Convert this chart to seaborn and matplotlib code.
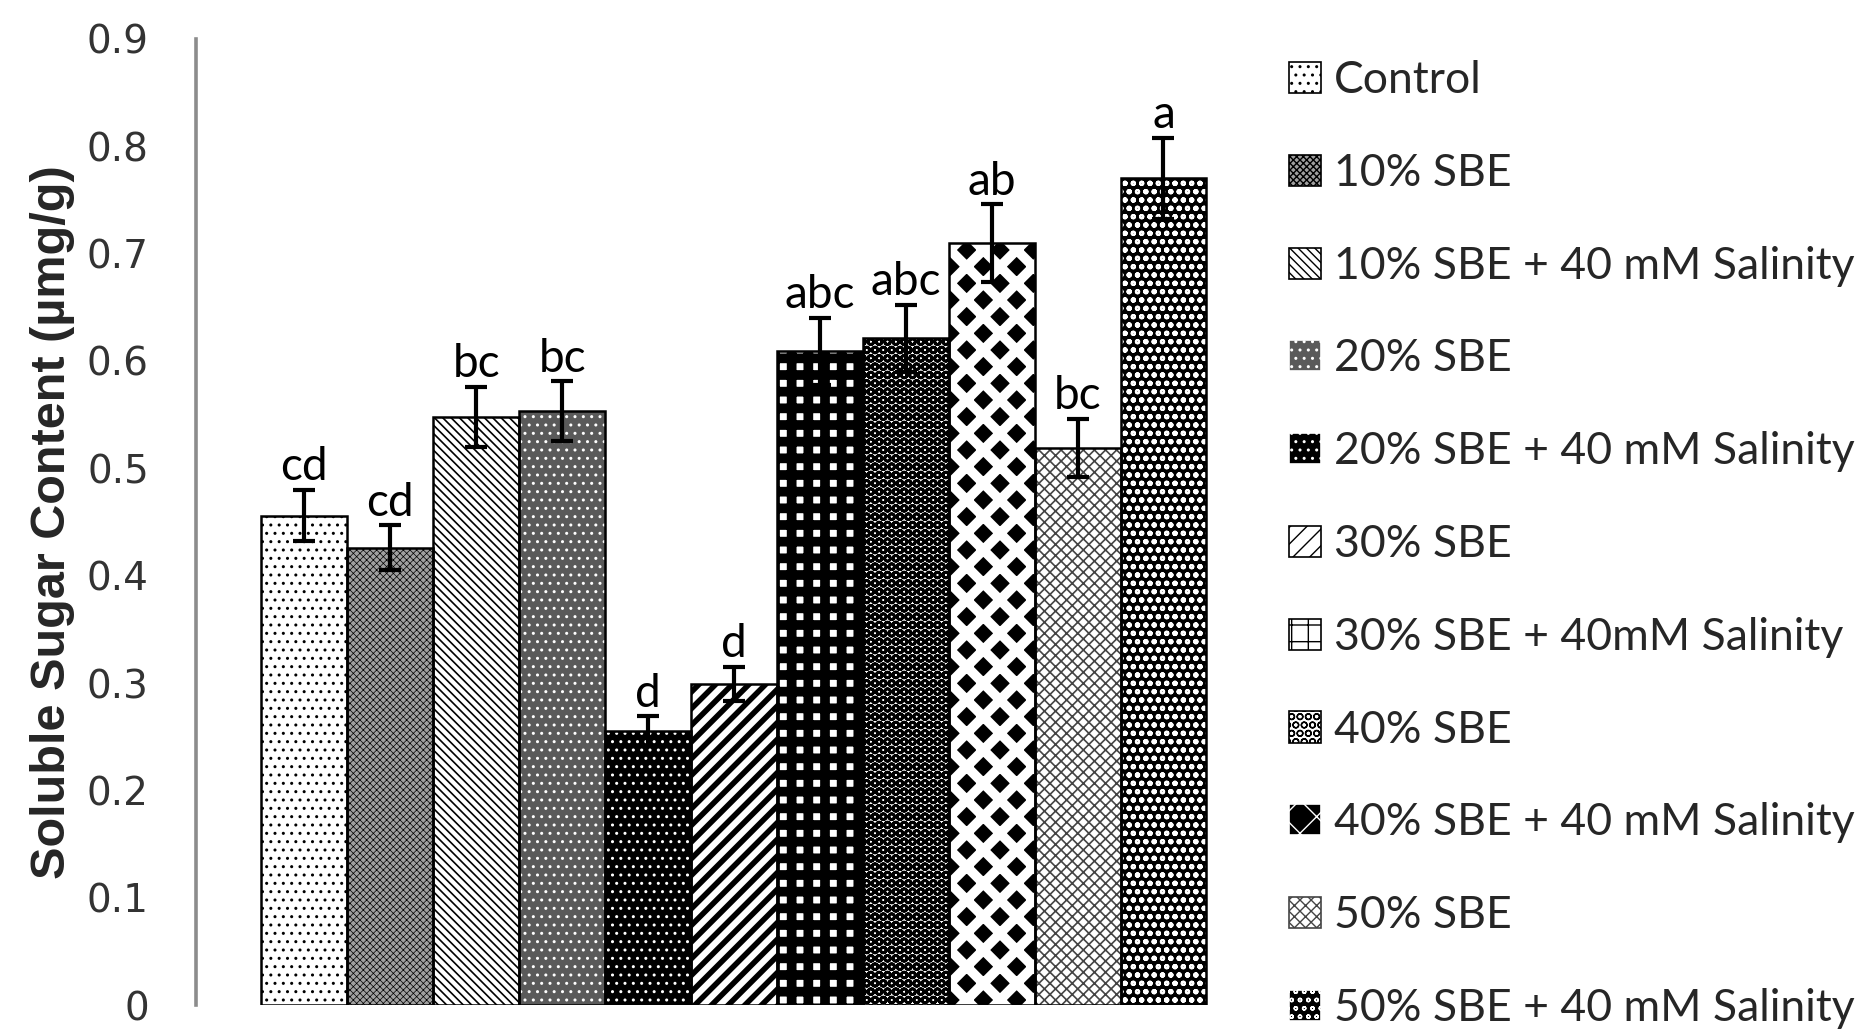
import matplotlib
matplotlib.use("Agg")
import matplotlib.pyplot as plt
from matplotlib.patches import Rectangle
import pandas as pd
import seaborn as sns

treatments = ["Control", "10% SBE", "10% SBE + 40 mM Salinity", "20% SBE",
              "20% SBE + 40 mM Salinity", "30% SBE", "30% SBE + 40mM Salinity",
              "40% SBE", "40% SBE + 40 mM Salinity", "50% SBE",
              "50% SBE + 40 mM Salinity"]
sugar = [0.456, 0.426, 0.548, 0.553, 0.255, 0.299, 0.609, 0.621, 0.710, 0.519, 0.770]
sugar_err = [0.024, 0.021, 0.028, 0.028, 0.014, 0.016, 0.031, 0.031, 0.036, 0.027, 0.038]
letters = ["cd", "cd", "bc", "bc", "d", "d", "abc", "abc", "ab", "bc", "a"]

# bar fill styles (face colour, hatch, hatch colour, hatch width)
faces = ["white", "#a0a0a0", "white", "#5a5a5a", "black", "white",
         "white", "white", "black", "white", "black"]
hatches = ["..", "xxxxx", "\\\\\\\\", "..", "..", "//", "+", "OO", "x", "xxx", "oo"]
hatch_cols = ["black", "black", "black", "white", "white", "black",
              "black", "black", "white", "#444444", "white"]
hatch_lws = [1.0, 0.5, 1.2, 1.0, 1.0, 4.0, 7.0, 2.0, 7.0, 1.2, 1.5]

df = pd.DataFrame({"Treatment": treatments, "Sugar": sugar})

sns.set_style("white")
fig = plt.figure(figsize=(18.62, 10.36), dpi=100)
ax = fig.add_axes([0.1053, 0.0299, 0.5777, 0.9325])

sns.barplot(data=df, x="Treatment", y="Sugar", hue="Treatment", order=treatments,
            hue_order=treatments, width=1.0, legend=False, errorbar=None, ax=ax)

bars = list(ax.patches)
for p, fc, h, hc, hlw in zip(bars, faces, hatches, hatch_cols, hatch_lws):
    p.set_facecolor(fc)
    p.set_hatch(h)
    p.set_edgecolor(hc)
    p.set_linewidth(0)
    if hasattr(p, "set_hatch_linewidth"):
        p.set_hatch_linewidth(hlw)
    ax.add_patch(Rectangle(p.get_xy(), p.get_width(), p.get_height(),
                           fill=False, edgecolor="black", linewidth=1.8, zorder=3))

xs = [p.get_x() + p.get_width() / 2 for p in bars]
ax.errorbar(xs, sugar, yerr=sugar_err, fmt="none", ecolor="black",
            elinewidth=3, capsize=8, capthick=3, zorder=4)

for x, v, e, lab in zip(xs, sugar, sugar_err, letters):
    ax.text(x, v + e + 0.009, lab, ha="center", va="baseline",
            fontsize=33, family="Lato", color="black")

ax.set_xlim(-1.26, 11.26)
ax.set_ylim(0, 0.9)
ax.set_yticks([i / 10 for i in range(10)])
ax.set_yticklabels(["0"] + [f"0.{i}" for i in range(1, 10)])
ax.set_xticks([])
ax.set_xlabel("")
ax.set_ylabel("Soluble Sugar Content (µmg/g)", fontsize=35, fontweight="bold",
              family="Liberation Sans")
ax.yaxis.set_label_coords(-0.113, 0.5)
ax.tick_params(axis="y", length=0, pad=34, labelsize=28, labelcolor="#333333")
for s in ["top", "right", "bottom"]:
    ax.spines[s].set_visible(False)
ax.spines["left"].set_color("#8c8c8c")
ax.spines["left"].set_linewidth(2.6)

leg = ax.legend(handles=bars, labels=treatments, loc="upper left",
                bbox_to_anchor=(0.6925, 0.942), bbox_transform=fig.transFigure,
                frameon=False, prop={"family": "Lato", "size": 32},
                handlelength=0.7, handleheight=0.7, handletextpad=0.3,
                labelspacing=1.165, borderaxespad=0, borderpad=0)
for hnd in leg.legend_handles:
    hnd.set_linewidth(1.2)

fig.savefig("out.png", dpi=100)
